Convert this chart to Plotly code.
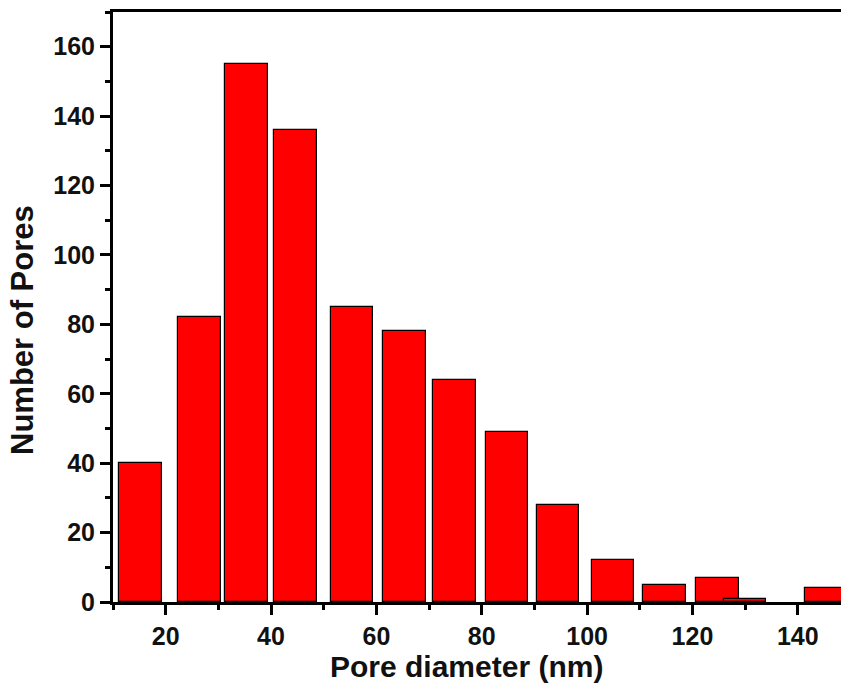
import plotly.graph_objects as go

# Data
bar_centers = [15.2, 26.4, 35.3, 44.6, 55.4, 65.3, 74.8, 84.8, 94.5, 104.9, 114.7, 124.7, 130.0, 145.4]
pore_counts = [40, 82, 155, 136, 85, 78, 64, 49, 28, 12, 5, 7, 1, 4]
bar_width = 8.1

x_tickvals = [20, 40, 60, 80, 100, 120, 140]
y_tickvals = [0, 20, 40, 60, 80, 100, 120, 140, 160]

FONT = "Liberation Sans"

fig = go.Figure()
fig.add_trace(go.Bar(
    x=bar_centers,
    y=pore_counts,
    width=[bar_width] * len(bar_centers),
    marker=dict(color="#FF0000", line=dict(color="#000000", width=1.2)),
    showlegend=False,
))

axis_common = dict(
    showgrid=False,
    zeroline=False,
    showline=True,
    linecolor="black",
    linewidth=3,
    ticks="outside",
    ticklen=10,
    tickwidth=3,
    tickcolor="black",
    tickfont=dict(family=FONT, size=25, color="#111111", weight="bold"),
)

fig.update_layout(
    width=841,
    height=691,
    margin=dict(l=113, r=0, t=12, b=89),
    paper_bgcolor="white",
    plot_bgcolor="white",
    bargap=0,
    xaxis=dict(
        range=[10, 148.2],
        tickvals=x_tickvals,
        mirror=True,
        minor=dict(dtick=10, tick0=10, ticks="outside", ticklen=5, tickwidth=3, tickcolor="black"),
        **axis_common,
    ),
    yaxis=dict(
        range=[0, 170],
        tickvals=y_tickvals,
        minor=dict(dtick=10, tick0=0, ticks="outside", ticklen=5, tickwidth=3, tickcolor="black"),
        **axis_common,
    ),
    annotations=[
        dict(
            text="Pore diameter (nm)",
            xref="paper", yref="paper",
            x=0.485, y=-0.110,
            xanchor="center", yanchor="middle",
            showarrow=False,
            font=dict(family=FONT, size=30, color="#111111", weight="bold"),
        ),
        dict(
            text="Number of Pores",
            xref="paper", yref="paper",
            x=-0.125, y=0.461,
            xanchor="center", yanchor="middle",
            textangle=-90,
            showarrow=False,
            font=dict(family=FONT, size=31, color="#111111", weight="bold"),
        ),
    ],
)

fig.write_html("out.html")
